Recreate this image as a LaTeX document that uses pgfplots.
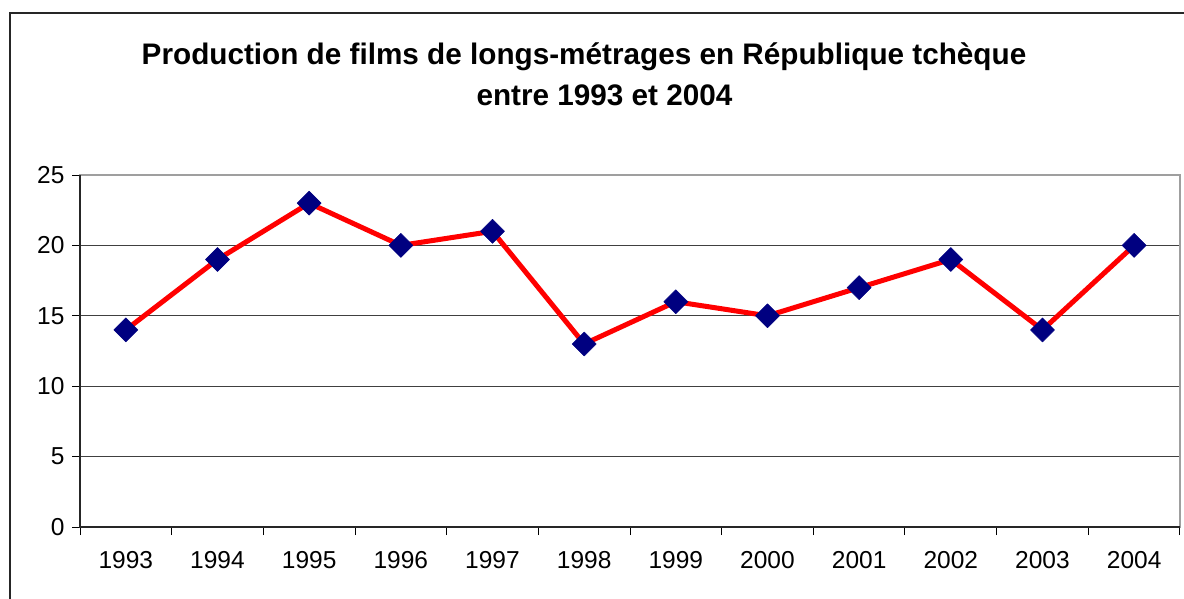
\documentclass[border=0pt]{standalone}
\usepackage{pgfplots}
\pgfplotsset{compat=1.18}
\usepackage{fontspec}
\setmainfont{Liberation Sans}
\definecolor{navymark}{RGB}{0,0,128}
\begin{document}
\begin{tikzpicture}[x=1pt,y=1pt]
\useasboundingbox (0,0) rectangle (1184,598);
\fill[white] (0,0) rectangle (1184,598);
\draw[line width=2pt, black!85] (10,-5) -- (10,585) -- (1190,585);
\node[font=\fontsize{29.7}{34}\selectfont\bfseries, anchor=base, inner sep=0pt] at (584,533) {Production de films de longs-métrages en République tchèque};
\node[font=\fontsize{29.7}{34}\selectfont\bfseries, anchor=base, inner sep=0pt] at (604.5,492) {entre 1993 et 2004};
\begin{axis}[
  at={(80pt,71pt)}, anchor=south west,
  width=1100pt, height=352pt, scale only axis,
  xmin=-0.5, xmax=11.5, ymin=0, ymax=25,
  xtick={-0.5,0.5,...,11.5},
  x tick label as interval,
  xticklabels={1993,1994,1995,1996,1997,1998,1999,2000,2001,2002,2003,2004},
  ytick={0,5,...,20},
  extra y ticks={25},
  extra y tick style={grid=none},
  ymajorgrids,
  grid style={black!75, line width=1pt},
  tick pos=left,
  tick align=outside,
  major tick length=8pt,
  tick style={black, line width=1pt},
  axis line style={draw=gray!75, line width=1.5pt},
  ticklabel style={font=\fontsize{24.5}{28}\selectfont},
  /pgf/number format/assume math mode=true,
  xticklabel style={yshift=-13pt},
  yticklabel style={xshift=-4pt},
  clip=false,
]
\draw[black!85, line width=1.5pt] (rel axis cs:0,1) -- (rel axis cs:0,0) -- (rel axis cs:1,0);
\addplot[red, line width=5pt, line join=round,
  mark=square*, mark size=8.5pt,
  mark options={rotate=45, fill=navymark, draw=navymark, line width=0.5pt}]
  coordinates {(0,14) (1,19) (2,23) (3,20) (4,21) (5,13) (6,16) (7,15) (8,17) (9,19) (10,14) (11,20)};
\end{axis}
\end{tikzpicture}
\end{document}
